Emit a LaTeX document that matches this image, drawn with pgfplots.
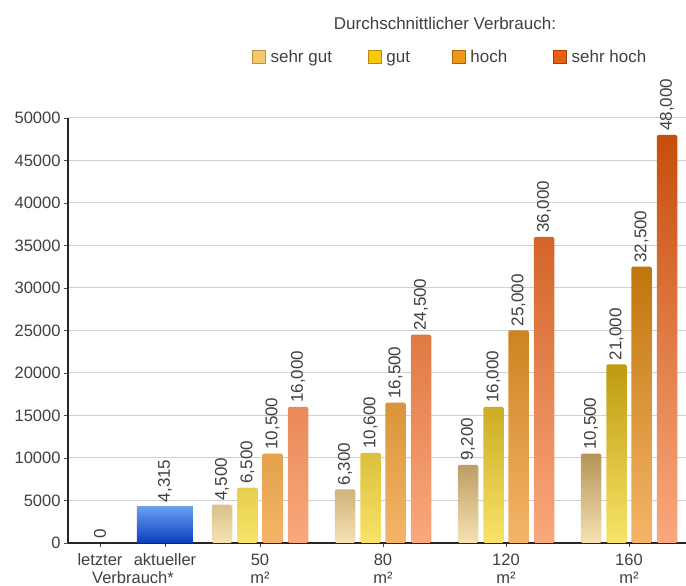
\documentclass[border=0pt]{standalone}
\usepackage{fontspec}
\setmainfont{Liberation Sans}
\usepackage{pgfplots}
\pgfplotsset{compat=1.18}

\definecolor{txt}{RGB}{64,64,64}
\definecolor{gridc}{RGB}{208,208,208}
\definecolor{sgTop}{RGB}{182,148,88}
\definecolor{sgBot}{RGB}{245,226,178}
\definecolor{guTop}{RGB}{190,155,15}
\definecolor{guBot}{RGB}{248,228,105}
\definecolor{hoTop}{RGB}{192,118,12}
\definecolor{hoBot}{RGB}{245,180,105}
\definecolor{shTop}{RGB}{198,78,12}
\definecolor{shBot}{RGB}{250,168,125}
\definecolor{blTop}{RGB}{105,160,240}
\definecolor{blBot}{RGB}{12,62,190}
\definecolor{sgL}{RGB}{246,200,110}\definecolor{sgLb}{RGB}{190,145,70}
\definecolor{guL}{RGB}{248,200,15}\definecolor{guLb}{RGB}{180,140,10}
\definecolor{hoL}{RGB}{240,150,25}\definecolor{hoLb}{RGB}{170,100,10}
\definecolor{shL}{RGB}{232,95,20}\definecolor{shLb}{RGB}{170,60,10}

\begin{document}
\begin{tikzpicture}
\useasboundingbox (-68pt,-43pt) rectangle (618pt,543pt);
\begin{axis}[
    at={(0pt,0pt)}, anchor=south west,
    x=1pt, y=0.0085pt,
    xmin=68, xmax=686,
    ymin=0, ymax=50000,
    clip=false,
    axis x line*=bottom,
    axis y line*=left,
    axis line style={-, line width=1.8pt, color=black!85},
    ymajorgrids=true,
    grid style={gridc, line width=1pt},
    tick align=outside,
    major tick length=4pt,
    tick style={color=black!70, line width=0.8pt},
    ytick={0,5000,...,50000},
    scaled y ticks=false,
    xtick={100,165,260,383,506,629},
    xticklabels={letzter,aktueller,{50\\m²},{80\\m²},{120\\m²},{160\\m²}},
    xticklabel style={align=center, font=\fontsize{16.5}{18.5}\selectfont, text=txt, yshift=-3pt},
    yticklabel style={font=\fontsize{16.5}{18}\selectfont, text=txt,
        /pgf/number format/1000 sep={}},
    /pgf/number format/.cd, fixed, precision=0, 1000 sep={,}, assume math mode=true,
    /pgfplots/.cd,
    every node near coord/.append style={rotate=90, anchor=west,
        font=\fontsize{17}{17}\selectfont, text=txt, inner xsep=4pt, inner ysep=0pt},
    legend columns=4,
    legend style={draw=none, fill=none, inner sep=0pt,
        at={(0.2977,1.1435)}, anchor=west,
        font=\fontsize{17}{17}\selectfont, text=txt,
        /tikz/column 1/.style={column sep=3pt},
        /tikz/column 2/.style={column sep=34pt},
        /tikz/column 3/.style={column sep=3pt},
        /tikz/column 4/.style={column sep=40pt},
        /tikz/column 5/.style={column sep=3pt},
        /tikz/column 6/.style={column sep=44pt},
        /tikz/column 7/.style={column sep=3pt}},
]
% legend
\addlegendimage{legend image code/.code={\draw[fill=sgL,draw=sgLb] (0pt,-6.5pt) rectangle (13pt,6.5pt);}}
\addlegendentry{\strut sehr gut}
\addlegendimage{legend image code/.code={\draw[fill=guL,draw=guLb] (0pt,-6.5pt) rectangle (13pt,6.5pt);}}
\addlegendentry{\strut gut}
\addlegendimage{legend image code/.code={\draw[fill=hoL,draw=hoLb] (0pt,-6.5pt) rectangle (13pt,6.5pt);}}
\addlegendentry{\strut hoch}
\addlegendimage{legend image code/.code={\draw[fill=shL,draw=shLb] (0pt,-6.5pt) rectangle (13pt,6.5pt);}}
\addlegendentry{\strut sehr hoch}

% letzter / aktueller Verbrauch
\addplot[ybar, bar width=56, draw=none, fill=none, nodes near coords, forget plot]
    coordinates {(100,0)};
\addplot[ybar, bar width=56, draw=none, top color=blTop, bottom color=blBot,
    nodes near coords, forget plot]
    coordinates {(165,4315)};

% sehr gut
\addplot[ybar, bar width=20.5, draw=none, rounded corners=1.5pt,
    top color=sgTop, bottom color=sgBot, nodes near coords, forget plot]
    coordinates {(222,4500) (345,6300) (468,9200) (591,10500)};
% gut
\addplot[ybar, bar width=20.5, draw=none, rounded corners=1.5pt,
    top color=guTop, bottom color=guBot, nodes near coords, forget plot]
    coordinates {(247.5,6500) (370.5,10600) (493.5,16000) (616.5,21000)};
% hoch
\addplot[ybar, bar width=20.5, draw=none, rounded corners=1.5pt,
    top color=hoTop, bottom color=hoBot, nodes near coords, forget plot]
    coordinates {(272.5,10500) (395.5,16500) (518.5,25000) (641.5,32500)};
% sehr hoch
\addplot[ybar, bar width=20.5, draw=none, rounded corners=1.5pt,
    top color=shTop, bottom color=shBot, nodes near coords, forget plot]
    coordinates {(298,16000) (421,24500) (544,36000) (667,48000)};

\node[font=\fontsize{17}{17}\selectfont, text=txt]
    at (axis description cs:0.61,1.2235) {Durchschnittlicher Verbrauch:};
\node[font=\fontsize{16.5}{18}\selectfont, text=txt]
    at (axis description cs:0.1052,-0.0824) {Verbrauch*};
\end{axis}
\end{tikzpicture}
\end{document}
